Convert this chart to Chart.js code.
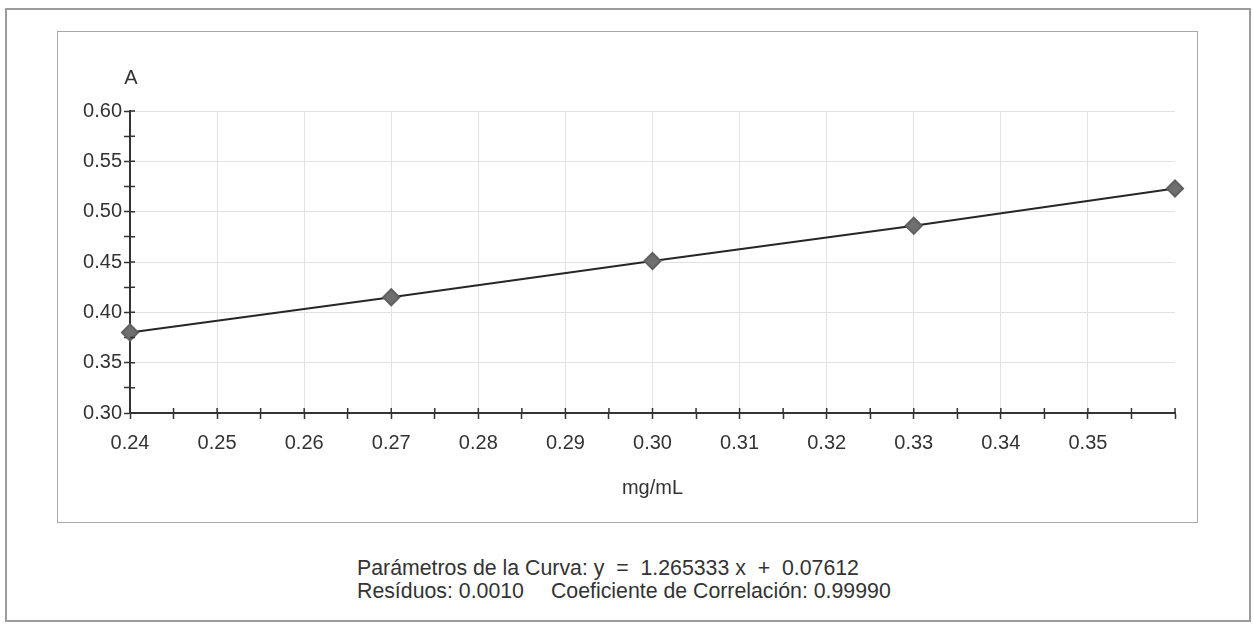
<!DOCTYPE html>
<html>
<head>
<meta charset="utf-8">
<script src="https://cdn.jsdelivr.net/npm/chart.js@4.4.1/dist/chart.umd.min.js"></script>
<style>
  body { margin: 0; background: #fff; font-family: "Liberation Sans", Arial, sans-serif; }
  #frame { position: absolute; left: 5px; top: 8px; width: 1242px; height: 610px; border: 2px solid #9c9c9c; }
  #box { position: absolute; left: 57px; top: 31px; width: 1139px; height: 490px; border: 1px solid #a8a8a8; }
  #notes { position: absolute; left: 357px; top: 557px; font-size: 21.3px; line-height: 23px; color: #333; }
  #notes span { margin-left: 27px; }
</style>
</head>
<body>
<div id="frame"></div>
<div id="box"><canvas id="grafico"></canvas></div>
<div id="notes">
  Parámetros de la Curva: y &nbsp;= &nbsp;1.265333 x &nbsp;+ &nbsp;0.07612<br>
  Resíduos: 0.0010<span>Coeficiente de Correlación: 0.99990</span>
</div>
<script>
// concentraciones (mg/mL) y absorbancias
const concentraciones = [0.24, 0.27, 0.30, 0.33, 0.36];
const absorbancias = [0.380, 0.415, 0.451, 0.486, 0.523];

const ejeX = { min: 0.24, max: 0.36, paso: 0.005, titulo: 'mg/mL' };
const ejeY = { min: 0.30, max: 0.60, paso: 0.025, titulo: 'A' };

const fuente = '"Liberation Sans", Arial, sans-serif';
const esMayorX = v => Math.round(v * 1000) % 10 === 0;
const esMayorY = v => Math.round(v * 1000) % 50 === 0;

// titulos de ejes y marcas que cruzan el eje hacia dentro
const extrasEjes = {
    id: 'extrasEjes',
    afterDraw(chart) {
        const ctx = chart.ctx;
        const area = chart.chartArea;
        const sx = chart.scales.x, sy = chart.scales.y;
        ctx.save();
        ctx.strokeStyle = '#333';
        ctx.lineWidth = 1.5;
        ctx.beginPath();
        sx.ticks.forEach(t => {
            const px = sx.getPixelForValue(t.value);
            ctx.moveTo(px, area.bottom);
            ctx.lineTo(px, area.bottom - 5);
        });
        sy.ticks.forEach(t => {
            const py = sy.getPixelForValue(t.value);
            ctx.moveTo(area.left, py);
            ctx.lineTo(area.left + 5, py);
        });
        ctx.stroke();
        ctx.fillStyle = '#333';
        ctx.font = '20px ' + fuente;
        ctx.textAlign = 'center';
        ctx.textBaseline = 'middle';
        ctx.fillText(ejeY.titulo, area.left + 1, area.top - 33);
        ctx.fillText(ejeX.titulo, (area.left + area.right) / 2, area.bottom + 75);
        ctx.restore();
    }
};

document.addEventListener('DOMContentLoaded', function() {
    const puntos = concentraciones.map((c, i) => ({ x: c, y: absorbancias[i] }));
    const ctx = document.getElementById('grafico').getContext('2d');

    new Chart(ctx, {
        type: 'scatter',
        data: {
            datasets: [{
                label: 'A',
                data: puntos,
                showLine: true,
                borderColor: '#262626',
                borderWidth: 2,
                pointStyle: 'rectRot',
                pointRadius: 8,
                pointBackgroundColor: '#6f6f6f',
                pointBorderColor: '#606060',
                clip: false
            }]
        },
        options: {
            responsive: true,
            maintainAspectRatio: false,
            animation: false,
            layout: { padding: { left: 0, top: 79, right: 22, bottom: 0 } },
            plugins: { legend: { display: false }, tooltip: { enabled: false } },
            scales: {
                x: {
                    type: 'linear',
                    min: ejeX.min,
                    max: ejeX.max,
                    afterFit(scale) { scale.height = 109; },
                    border: { color: '#333', width: 2 },
                    grid: {
                        color: c => (esMayorX(c.tick.value) && c.tick.value < 0.355) ? '#e2e2e2' : 'rgba(0,0,0,0)',
                        tickColor: '#333',
                        tickLength: 6,
                        tickWidth: 1.5
                    },
                    ticks: {
                        stepSize: ejeX.paso,
                        autoSkip: false,
                        maxRotation: 0,
                        padding: 12,
                        color: '#333',
                        font: { family: fuente, size: 20 },
                        callback: v => (esMayorX(v) && v < 0.355) ? v.toFixed(2) : ''
                    }
                },
                y: {
                    type: 'linear',
                    min: ejeY.min,
                    max: ejeY.max,
                    afterFit(scale) { scale.width = 72; },
                    border: { color: '#333', width: 2 },
                    grid: {
                        color: c => esMayorY(c.tick.value) && c.tick.value > 0.31 ? '#e2e2e2' : 'rgba(0,0,0,0)',
                        tickColor: '#333',
                        tickLength: 6,
                        tickWidth: 1.5
                    },
                    ticks: {
                        stepSize: ejeY.paso,
                        autoSkip: false,
                        padding: 2,
                        color: '#333',
                        font: { family: fuente, size: 20 },
                        callback: v => esMayorY(v) ? v.toFixed(2) : ''
                    }
                }
            }
        },
        plugins: [extrasEjes]
    });
});
</script>
</body>
</html>
